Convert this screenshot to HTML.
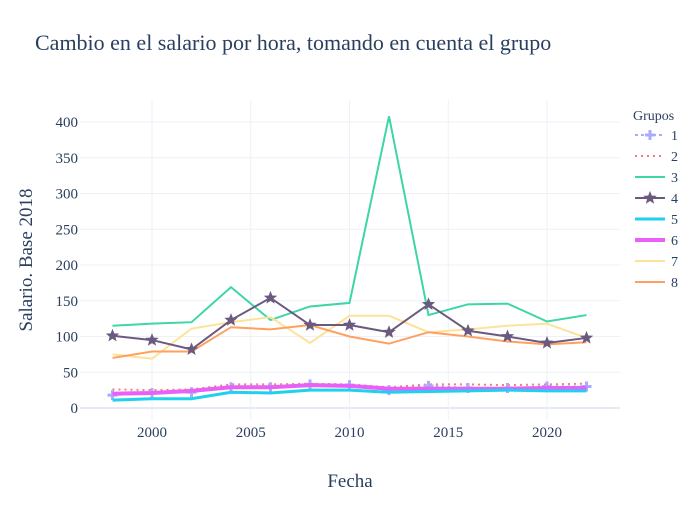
<!DOCTYPE html>
<html><head><meta charset="utf-8"><style>
body{margin:0;background:#fff}
svg text{font-family:"Liberation Serif",serif;fill:#2a3f5f}
</style></head><body>
<svg id="s" width="700" height="500" xmlns="http://www.w3.org/2000/svg">
<rect width="700" height="500" fill="#fff"/>
<text x="35" y="50" font-size="22">Cambio en el salario por hora, tomando en cuenta el grupo</text>
<g id="grid"></g>
<g id="lines"></g>
<text x="350" y="487" font-size="19" text-anchor="middle">Fecha</text>
<text transform="translate(32,260) rotate(-90)" font-size="19" text-anchor="middle">Salario. Base 2018</text>
<g id="leg"><text x="633" y="120" font-size="14">Grupos</text></g>
</svg>
<script>
const NS="http://www.w3.org/2000/svg";
function el(p,t,a,txt){const e=document.createElementNS(NS,t);for(const k in a)e.setAttribute(k,a[k]);if(txt!==undefined)e.textContent=txt;p.appendChild(e);return e;}
const X=y=>152+(y-2000)*19.75, Y=v=>408-v*0.715;
const g=document.getElementById('grid');
for(let v=0;v<=400;v+=50){el(g,'line',{x1:80,x2:620,y1:Y(v),y2:Y(v),stroke:v==0?'#e4e9f2':'#eef1f7','stroke-width':v==0?2:1});
 el(g,'text',{x:78,y:Y(v)+5,'font-size':15,'text-anchor':'end'},v);}
for(let y=2000;y<=2020;y+=5){el(g,'line',{x1:X(y),x2:X(y),y1:100,y2:420,stroke:'#eef1f7'});
 el(g,'text',{x:X(y),y:437,'font-size':15,'text-anchor':'middle'},y);}
const yrs=[1998,2000,2002,2004,2006,2008,2010,2012,2014,2016,2018,2020,2022];
const S=[
['1','#aaaaff',[18,21,22,29,29,33,32,25,31,28,28,30,30],2,'3,3','cross'],
['2','#f08070',[26,25,26,33,33,34,33,29,33,33,32,33,34],2,'2,4',null],
['3','#3cd6a8',[115,118,120,169,123,142,147,408,130,145,146,121,130],2,null,null],
['4','#6b5a80',[101,95,82,123,154,116,116,106,145,108,100,91,98],2,null,'star'],
['5','#1fd0ef',[11,13,13,22,21,25,25,22,23,24,25,24,24],3,null,null],
['6','#e860f8',[20,21,24,29,29,32,31,27,27,27,27,28,28],4,null,null],
['7','#fde39a',[75,69,111,120,127,91,129,129,106,110,115,118,98],2,null,null],
['8','#ffa060',[70,79,79,113,110,116,100,90,106,100,93,89,92],2,null,null]];
const L=document.getElementById('lines'),G=document.getElementById('leg');
function star(p,x,y,c){let pts=[];for(let i=0;i<10;i++){const r=i%2?3:7,a=-Math.PI/2+i*Math.PI/5;pts.push((x+r*Math.cos(a)).toFixed(1)+','+(y+r*Math.sin(a)).toFixed(1));}el(p,'polygon',{points:pts.join(' '),fill:c});}
function cross(p,x,y,c){el(p,'path',{d:`M${x-5} ${y}H${x+5}M${x} ${y-5}V${y+5}`,stroke:c,'stroke-width':3});}
const order=[2,6,7,3,1,0,5,4];
order.forEach(i=>{const s=S[i];const a={points:s[2].map((v,j)=>X(yrs[j])+','+Y(v)).join(' '),fill:'none',stroke:s[1],'stroke-width':s[3]};if(s[4])a['stroke-dasharray']=s[4];el(L,'polyline',a);
 if(s[5])s[2].forEach((v,j)=>(s[5]=='star'?star:cross)(L,X(yrs[j]),Y(v),s[1]));});
S.forEach((s,i)=>{const y=135+i*21;const a={x1:635,x2:665,y1:y,y2:y,stroke:s[1],'stroke-width':s[3]};if(s[4])a['stroke-dasharray']=s[4];el(G,'line',a);
 if(s[5])(s[5]=='star'?star:cross)(G,650,y,s[1]);el(G,'text',{x:671,y:y+5,'font-size':14},s[0]);});
</script>
</body></html>
